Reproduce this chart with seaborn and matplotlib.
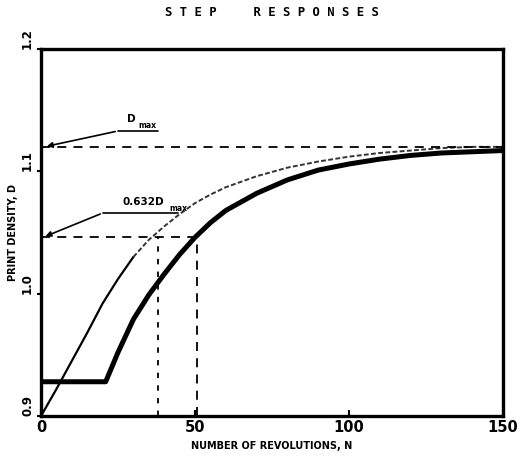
import matplotlib
matplotlib.use("Agg")
import matplotlib.pyplot as plt
import seaborn as sns
import pandas as pd

# ---- data ----
# slow (delayed) response: thick solid curve
slow_n = [0, 21, 25, 30, 35, 40, 45, 50, 55, 60, 70, 80, 90, 100, 110, 120, 130, 140, 150]
slow_d = [0.928, 0.928, 0.952, 0.979, 0.999, 1.016, 1.032, 1.046, 1.058, 1.068, 1.082, 1.093,
          1.101, 1.106, 1.110, 1.113, 1.115, 1.116, 1.117]
# fast response: thin curve, solid at start then dotted
fast_solid_n = [0, 5, 10, 15, 20, 25, 30]
fast_solid_d = [0.900, 0.922, 0.945, 0.968, 0.992, 1.012, 1.030]
fast_dot_n = [30, 35, 40, 45, 50, 55, 60, 70, 80, 90, 100, 110, 120, 130, 140, 150]
fast_dot_d = [1.030, 1.044, 1.055, 1.065, 1.074, 1.081, 1.087, 1.096, 1.103, 1.108, 1.112,
              1.115, 1.117, 1.119, 1.120, 1.120]
# reference levels
d_max = 1.12
d_632 = 1.046
n_632_fast = 38
n_632_slow = 50.6

x_ticks = [0, 50, 100, 150]
y_ticks = [0.9, 1.0, 1.1, 1.2]
y_tick_labels = ["0.9", "1.0", "1.1", "1.2"]

sns.set_style("ticks")
plt.rcParams["font.family"] = ["DejaVu Sans"]
plt.rcParams["font.weight"] = "bold"
plt.rcParams["text.color"] = "black"
plt.rcParams["axes.labelcolor"] = "black"
plt.rcParams["xtick.color"] = "black"
plt.rcParams["ytick.color"] = "black"

fig = plt.figure(figsize=(5.26, 4.67), dpi=100)
ax = fig.add_axes([41 / 526, 1 - 416 / 467, 462 / 526, 367 / 467])

slow = pd.DataFrame({"N": slow_n, "D": slow_d})
fast_a = pd.DataFrame({"N": fast_solid_n, "D": fast_solid_d})
fast_b = pd.DataFrame({"N": fast_dot_n, "D": fast_dot_d})

sns.lineplot(data=slow, x="N", y="D", ax=ax, color="black", lw=3.6, sort=False)
sns.lineplot(data=fast_a, x="N", y="D", ax=ax, color="black", lw=1.6, sort=False)
sns.lineplot(data=fast_b, x="N", y="D", ax=ax, color="#333333", lw=1.4,
             linestyle=(0, (2.5, 1.2)), sort=False)

# dashed construction lines
dash = (0, (5, 4))
ax.plot([0, 150], [d_max, d_max], color="black", lw=1.3, linestyle=dash)
ax.plot([0, n_632_slow], [d_632, d_632], color="black", lw=1.3, linestyle=dash)
ax.plot([n_632_fast, n_632_fast], [0.9, d_632], color="black", lw=1.3, linestyle=(0, (3, 4)))
ax.plot([n_632_slow, n_632_slow], [0.9, d_632], color="black", lw=1.3, linestyle=dash)

# leader lines with arrows
ax.plot([38, 25], [1.133, 1.133], color="black", lw=1.2)
ax.annotate("", xy=(1.0, d_max), xytext=(25, 1.133),
            arrowprops=dict(arrowstyle="-|>", color="black", lw=1.2, mutation_scale=8))
ax.text(28, 1.139, "D", fontsize=7.5, fontweight="bold", ha="left", va="bottom")
ax.text(31.5, 1.134, "max", fontsize=5.5, fontweight="bold", ha="left", va="bottom")

ax.plot([44.5, 20.1], [1.066, 1.066], color="black", lw=1.2)
ax.annotate("", xy=(0.6, d_632), xytext=(20.1, 1.066),
            arrowprops=dict(arrowstyle="-|>", color="black", lw=1.2, mutation_scale=8))
ax.text(26.5, 1.071, "0.632D", fontsize=7.5, fontweight="bold", ha="left", va="bottom")
ax.text(41.8, 1.066, "max", fontsize=5.5, fontweight="bold", ha="left", va="bottom")

ax.set_xlim(0, 150)
ax.set_ylim(0.9, 1.2)
ax.set_xticks(x_ticks)
ax.set_xticklabels([str(v) for v in x_ticks], fontsize=10.5, fontweight="bold")
ax.set_yticks(y_ticks)
ax.set_yticklabels(y_tick_labels, fontsize=8.5, fontweight="bold", rotation=90, va="bottom")
ax.tick_params(axis="x", direction="in", length=4, width=1.5, pad=3)
ax.tick_params(axis="y", direction="out", length=3, width=1.5, pad=2)

for s in ax.spines.values():
    s.set_visible(True)
    s.set_linewidth(2.4)
    s.set_color("black")

ax.set_xlabel("NUMBER OF REVOLUTIONS, N", fontsize=7, fontweight="bold", labelpad=4)
ax.set_ylabel("PRINT DENSITY, D", fontsize=7, fontweight="bold", labelpad=2)

fig.text(272 / 526, 1 - 13 / 467, "S T E P     R E S P O N S E S",
         ha="center", va="center", fontsize=8.8, fontweight="bold",
         family=["DejaVu Sans Mono"])

fig.savefig("out.png", dpi=100)
